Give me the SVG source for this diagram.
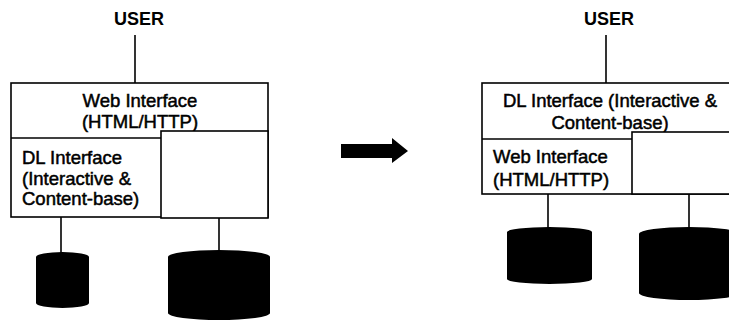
<svg xmlns="http://www.w3.org/2000/svg" width="729" height="322" viewBox="0 0 729 322">
<style>
.box{fill:#fff;stroke:#000;stroke-width:1.6}
.ln{stroke:#000;stroke-width:1.6;fill:none}
.db{fill:#000;stroke:none}
.t{font-family:"Liberation Sans",Arial,sans-serif;font-size:18.5px;fill:#000;stroke:#000;stroke-width:0.5}
.u{font-family:"Liberation Sans",Arial,sans-serif;font-size:18px;font-weight:bold;fill:#000}
.m{text-anchor:middle}
</style>
<rect width="729" height="322" fill="#fff"/>
<g id="connectors">
<line class="ln" x1="135" y1="35" x2="135" y2="83"/>
<line class="ln" x1="61" y1="217" x2="61" y2="253"/>
<line class="ln" x1="219" y1="218" x2="219" y2="251"/>
<line class="ln" x1="606" y1="35" x2="606" y2="83"/>
<line class="ln" x1="548" y1="194" x2="548" y2="228"/>
<line class="ln" x1="689" y1="194" x2="689" y2="228"/>
</g>
<g id="user-left"><text class="u m" x="139" y="25">USER</text></g>
<g id="web-interface-left">
<rect class="box" x="11" y="83" width="257" height="134"/>
<text class="t m" x="140" y="107">Web Interface</text>
<text class="t m" x="140" y="128">(HTML/HTTP)</text>
</g>
<g id="dl-interface-left">
<line class="ln" x1="11" y1="138" x2="161" y2="138"/>
<text class="t" x="22" y="164">DL Interface</text>
<text class="t" x="22" y="185">(Interactive &amp;</text>
<text class="t" x="22" y="205">Content-base)</text>
</g>
<g id="blank-left"><rect class="box" x="161" y="131" width="107" height="87"/></g>
<g id="db-left-small"><path class="db" d="M36,257 A26.5,5 0 0 1 89,257 L89,303 A26.5,5 0 0 1 36,303 Z"/></g>
<g id="db-left-big"><path class="db" d="M168,257 A51,7 0 0 1 270,257 L270,313 A51,7 0 0 1 168,313 Z"/></g>
<g id="arrow"><polygon class="db" points="341,144 392,144 392,138 408,151 392,163 392,158 341,158"/></g>
<g id="user-right"><text class="u m" x="609" y="25">USER</text></g>
<g id="dl-interface-right">
<rect class="box" x="482" y="83" width="260" height="111"/>
<text class="t m" x="610" y="107">DL Interface (Interactive &amp;</text>
<text class="t m" x="610" y="129">Content-base)</text>
</g>
<g id="web-interface-right">
<line class="ln" x1="482" y1="139" x2="632" y2="139"/>
<text class="t" x="493" y="163">Web Interface</text>
<text class="t" x="493" y="186">(HTML/HTTP)</text>
</g>
<g id="blank-right"><rect class="box" x="632" y="132" width="110" height="62"/></g>
<g id="db-right-small"><path class="db" d="M507,232 A42.5,5 0 0 1 592,232 L592,279 A42.5,5 0 0 1 507,279 Z"/></g>
<g id="db-right-big"><path class="db" d="M639,234 A50,7 0 0 1 739,234 L739,293 A50,7 0 0 1 639,293 Z"/></g>
</svg>
